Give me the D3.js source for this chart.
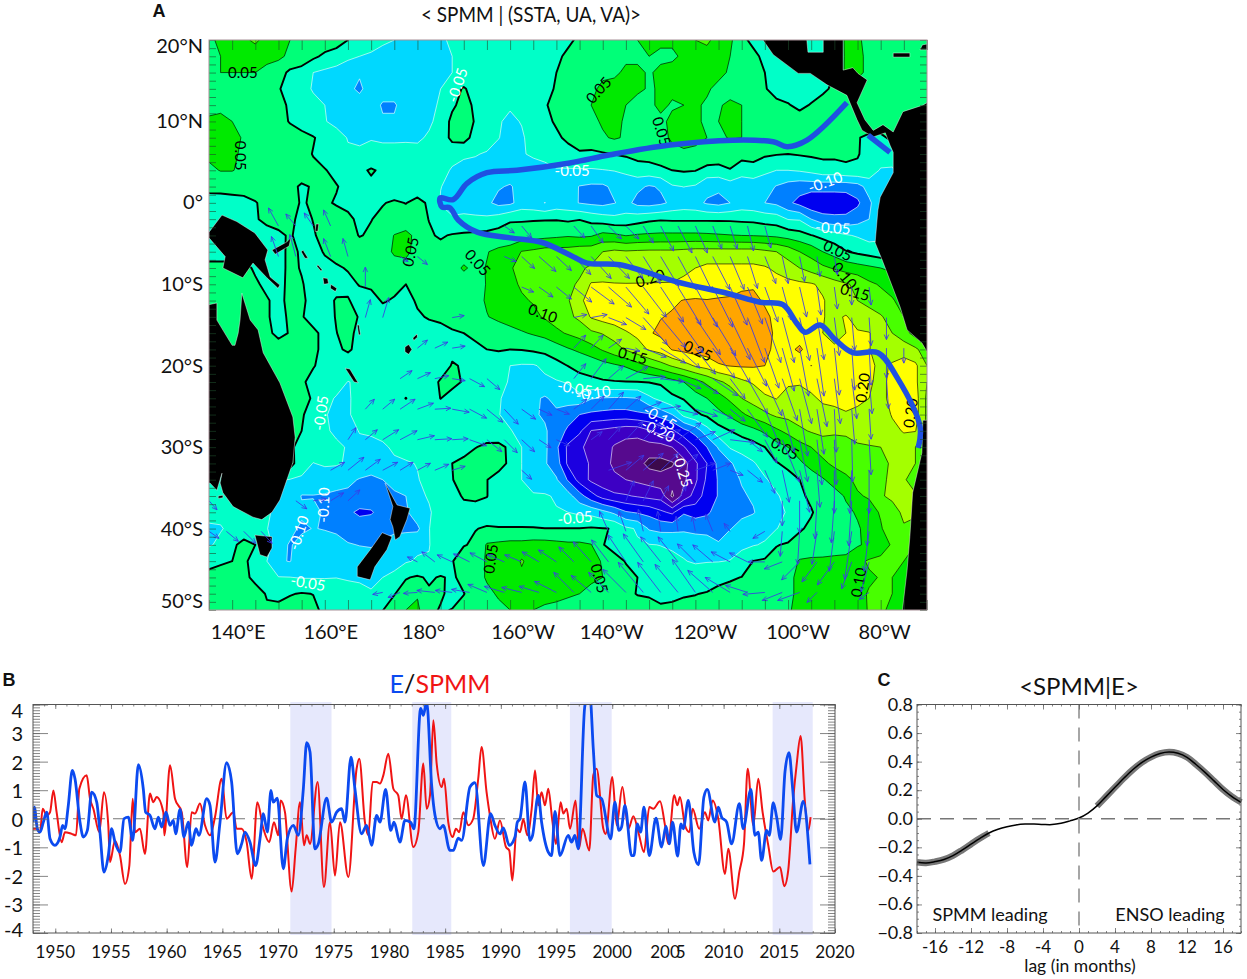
<!DOCTYPE html>
<html><head><meta charset="utf-8">
<script src="https://cdn.jsdelivr.net/npm/d3@7"></script>
<style>
html,body{margin:0;padding:0;background:#fff;width:1247px;height:979px;overflow:hidden}
text{font-family:Lato,"Open Sans","Noto Sans",sans-serif}
</style></head><body><svg id="c" width="1247" height="979"></svg>
<script>
// ---------- Panel A data: SST regression field (hundredths), rows 20N..50S every 2 deg, columns 135E..290E every 2.5 deg
const fieldRows = [
[4,6,7,9,11,8,7,5,4,3, 3,2,0,-1,-2,-4,-5,-6,-7,-7, -6,-4,-3,-3,-3,-3,-3,-3,-3,-2, -2,-1,1,2,3,3,4,5,6,6, 6,7,10,11,8,6,1,-1,-2,-2, -2,-2,-2,-1,0,6,6,3,3,3, 3,3,3],
[3,5,6,7,7,6,6,4,3,1, -1,-2,-4,-5,-6,-7,-7,-8,-8,-8, -7,-5,-4,-3,-3,-3,-3,-3,-3,-2, -1,1,2,3,3,4,4,4,5,4, 4,6,7,8,8,5,3,1,-1,-2, -2,-2,-2,-2,-1,6,6,4,3,3, 3,3,3],
[4,5,5,5,5,4,2,-1,-2,-5, -6,-7,-8,-9.5,-8,-8,-8,-8,-7,-7, -6,-5,-4,-3,-3,-3,-3,-3,-3,-1, 0,1,2,3,4,4,6,6,4.5,6, 7,7,7,6,6,4.5,3.5,2.5,0,-2, -2,-2,-2,-1,0,6,6,4,3,3, 3,3,3],
[3,3,3,3,3,2.5,0.3,-1.5,-3,-5.5, -7,-8,-9,-10.8,-8,-8,-8,-8,-8,-7, -5,-2,0.5,-2,-3,-3,-3,-3,-3,-1.5, 0.5,2,3,4,6,7,7,6,4.5,5.5, 6,6,6,5.5,4,3,3,2.5,0.3,-1.5, -2,-2,-2,-1,1,3,3,3,3,3, 3,3,3],
[3,4,4,4,3,3,1,-0.5,-2,-3.5, -5,-7,-8,-8,-8,-10.5,-10.5,-8,-7,-6, -4.5,-1,2,-1,-3,-3.5,-4.6,-3.5,-3,-0.3, 1,3,4,5,6,7,5,3,4,6, 4.5,5,5.5,4.5,4.5,6,5,2,1.5,1, 0.3,-1,0.3,2,3,3,3,3,3,3, 3,3,3],
[6,6,5,4,3,3,1.5,-0.3,-2,-3.5, -4.8,-6,-7,-7.5,-8,-9.5,-9.5,-7.5,-6.5,-5.5, -4,1.5,3,-0.5,-3,-4.7,-5.7,-4.8,-3,-1, 0.5,3,4,4,5.5,6,4.5,3.5,3.5,4, 6,6,5.5,4.5,5,5.5,5,3,2,2, 2,2,3,3,3,3,3,3,3,3, 3,3,3],
[7,7,6.5,4.5,3.5,3,3,2,1.5,0.3, -1.5,-3.5,-5.2,-5.5,-5.2,-5.7,-5.7,-5.4,-5.5,-4.6, -3.5,1.5,2,-2,-3.5,-4.9,-6,-5.5,-3.5,-2, -0.7,0.8,2,3,4.5,5.5,4.5,3,3,4, 5.5,6,5.5,5,4.5,5.2,5,3,2,2, 2,2,2,2,2,1.5,0.3,-1,-1,1, 3,3,3],
[6,6.5,6,4,3,3,3,2.5,1.5,-0.2, -1.5,-3,-4.5,-4.5,-4,-3.5,-3.5,-4,-4,-3.5, -3.5,-4,-4.5,-4.8,-5.3,-6,-6.5,-5.3,-4.5,-4, -3,-1.5,-0.5,-1,-0.5,0.2,0.8,1.5,2,2.5, 4,4.5,4.5,4.5,3.5,3,2,2,0.8,0.3, 0,0.4,0.8,1,1,1,0.3,-1.5,-2,-3, 3,3,3],
[4,5.2,5.2,4,3,2.5,2.5,2.5,2,1, 0.2,-1,-2,-1,0.5,-0.8,-3,-3,-3,-3, -4,-5.3,-6,-6,-6.5,-7,-7,-7,-6.5,-6, -5.3,-5.5,-5.5,-5.5,-5.2,-4.8,-4,-2,-2,-1, 0,0.5,0.2,-2,-2,-0.3,-3,-2,-4,-5, -5,-4.5,-3.5,-2,-2,-1,-0.8,-2,-5.5,-5.5, -3,0,0],
[1,1.5,1.5,2,2.5,2.5,2,1,-0.5,0.3, 2,0.2,-1,-2,-1,-3,-2.5,-2,-2,-3, -4.9,-6,-7,-7,-7,-9.5,-10.5,-8,-8,-8, -8,-8,-10.2,-10.8,-10.8,-9,-8,-9,-10.5,-9.5, -5.5,-4.9,-5.5,-8.5,-9,-7.5,-8,-8,-8,-10.3, -12,-13,-13,-13,-13,-13,-12,-8,-6,-5, -3,0,0],
[-1.5,-2,-1.5,-1.5,-0.3,1.5,2.5,2,-0.5,0.7, 0.5,-0.3,-1,-1,-1,-0.2,0.5,-0.1,1,-0.5, -5.3,-6,-7,-8,-9,-11.5,-11,-8,-8.5,-10.1, -8,-8.5,-10.2,-11,-11.5,-10.2,-8.5,-11.5,-12,-11, -9,-8,-8.5,-10.6,-11.5,-10,-8,-8.5,-10,-11, -14,-16.5,-19,-19,-19,-18.5,-16,-11,-6,-4, -3,0,0],
[-2,-2,-2,-2,-0.2,0.5,1,0.8,-1,0.1, 1,1.5,0.8,-0.8,-0.1,0.8,1,1.5,1.5,-0.1, -3,-4.7,-4,-4,-4,-2.5,-0.5,-0.5,-0.4,-0.3, -0.3,-0.8,-0.2,-1.5,-2.5,-3.5,-3,-2,-1,-0.5, -0.7,-0.7,-0.7,-0.7,-0.7,-0.7,-1,-1.2,-2,-2.5, -5.2,-5.5,-10,-13,-13.5,-13.5,-12,-10,-5.5,-3, -3,0,0],
[-1.5,-1.5,-1.5,-1.5,-1,-0.8,-0.5,0.3,-1,-0.3, 1,1.5,1.5,-0.2,0.5,2,5.2,6.5,3.5,0.5, -0.5,0.4,0.8,1,1.5,2,2,2.5,3,3.5, 4,4.5,4,4.5,6.5,6,4.8,5.5,5.8,6, 6,6,6,5.8,5.5,5.2,5,4.8,4.5,4, 3,2,0.2,-1.5,-3,-4.5,-5.5,-7,-6,-3, -3,0,0],
[-1.5,-1.5,-1.5,-1.5,-1.5,-1.5,-1.5,1,-0.5,-1.2, 0.3,1.5,1.5,2,2.5,3.5,5.5,6,3.5,2, 1.5,3,3,3.5,4.8,6,7,10.2,11,12, 12,12,13,13,15,16,15.5,15.8,16,16, 16,16.5,17,17,17,17,17,17,16,15, 13,10,8,5,3,0.3,-1,-2,-3,-3, -3,0,0],
[1,1,1,1,-0.5,-1.5,-1.5,1,-0.3,-1.5, -1,-0.5,0.3,1,1.5,3,3.5,3.5,2.5,2.5, 3,3.5,5.5,4,5.2,7,9.7,11,12,13, 13.5,14,14.5,15.5,17,16.5,15.3,16,17,17.5, 18,19,20,21,21,21,21,21,20.5,19, 17,15,13,11,9.5,8,7,6,5,4, 3,3,3],
[1,1,1,1.5,0.5,-0.8,-1,0.8,0.3,-1.5, -2.5,-2,-1,0.2,1,2,1.5,0,1.5,2, 2.5,3,3,3.5,5.2,7,9,10.5,11.5,13, 14,14.5,15.3,20.5,20.5,20.3,20.3,20.3,20.3,20.3, 20.3,21,21.5,22,22,22,23.5,24.5,23,22, 21.5,21,20.5,19,17,15.5,14,11,9.5,8, 3,3,3],
[2,2,2,2,2,0.3,-1,1,0.8,-1.5, -2,0.5,0.3,-1.5,-2,0.5,-0.5,-0.8,0.3,1, 2,2.5,3,3.5,5.5,7,8.5,9.5,10.3,12, 13,14.5,19,22,23,23,23,23,23.5,24, 24.3,25.2,25.5,25.2,25.6,26,27,26,24.5,23, 22,21.5,21,20.4,18,16.5,15,13.5,12,10.5, 8,3,3],
[2,2,2,2,2,0.3,-1,0.5,0.3,-1.5, -2,0.3,1.5,-0.3,-2,-2.5,-2.5,-2,-0.3,0.2, 0.3,1,2,3,4.8,6,7,8,9,10.5, 12,14,16,20.5,22,23,23,23.5,24,24.8, 25.5,26,26.5,26.5,27,27,27,26.5,25.8,24, 23,22,21.5,20.2,19,20.4,18,17,15.5,13, 10,3,3],
[2,2,2,2,2,0.7,-0.8,0.2,2,0.8, -1,-0.1,1.5,-1.5,-2.5,-3,-3,-3,-2.5,-1, -0.5,-0.3,0,0.5,1.5,2.5,3.5,4.5,5.5,6.5, 9,10.5,12,14,15.3,17,19.5,21,24.5,26, 27,28,28,28,28,28,27.5,27.5,27,24, 23,22,21,20,19,20,20.5,20.2,18,15, 12,8,5],
[2,2,2,2,2,2,1.5,1.5,2,0.8, -1,-0.8,0.7,-1.5,-3,-3,-3,-3.5,-3.5,-3.5, -2.5,-1.5,-1,-0.5,0,0.5,0,0.2,0.8,1.5, 2.5,4.5,6,8,10.5,13,15.5,18,20.5,22, 25.3,26.3,27,27.5,28,28,28,28,26.5,23.5, 23.5,26,22,21,20.5,21,21,20.3,17,18, 18,16,12],
[2,2,2,2,2,2,1.5,1.5,1.2,0.2, -1,-2,-3,-3,-3,-3.5,-3.5,-3.5,-3.5,-3.5, -3.5,0.5,-0.5,-3.5,-3.5,-4,-5,-5.5,-5.5,-4, -1.5,0.1,0.8,1.5,3,4.2,5.5,8,10.5,13, 15.5,18,20.5,22,24.5,25.2,25.5,25.5,25,23, 21.5,21,25.1,21.5,21,21,21.5,21,19,20.5, 22,21,15],
[2,2,2,2,2,2,2,1.5,0.5,-1, -3,-3.5,-5.1,-4.5,-3,-2.5,-2.5,-2.5,-2,-3, 0.8,1.5,-0.5,-3,-3.5,-4,-5.3,-6,-6.5,-6, -5.5,-4.6,-1,-0.8,-0.5,-0.3,-0.2,-0.1,0.2,0.8, 3,5,8,11,14,16.5,19,20.5,23,22, 21,20.5,21,20.5,21,20.5,20.5,20.5,19,21, 22,21,15],
[2,2,2,2,2,2,2,1.5,0.6,-0.2, -4,-5.3,-5.5,-3.5,-3,-2,-2,0.1,-2,-2.5, 0.1,-2,-2.5,-3,-3.5,-4.7,-6,-7,-9,-10.6, -8.5,-8,-7,-9.7,-10.3,-10.5,-10.5,-10,-6,-3.5, -1,0.3,3,5,8,11,15,17,19,20.2, 17.5,18,19.5,20.5,20.5,20.8,20.5,20,19,21, 23,22,14],
[2,2,2,2,2,2,2,2,0.5,-2, -4.7,-6,-5.3,-4,-3,-3,-3,-3,-3,-3, -3,-3,-3,-3.5,-4,-4.8,-6.5,-8,-9.5,-10.5, -11,-12.5,-15,-16,-16.5,-17,-17,-16,-15.5,-13, -10,-3.5,-1,1,3.5,6,9,12,14,16, 16.5,17.5,18.5,19,19.5,19.8,19.5,18.5,18,20.3, 23,22,14],
[2,2,2,2,2,2,2,2,0,-2, -4.6,-5.5,-6.5,-4.8,-4,-3,-3,-3,-3,-3, -3,-3,-3,-3.5,-3.5,-4,-4.7,-6.5,-8,-9.5, -12,-16,-19,-25.2,-26,-27,-28,-28,-25.5,-23, -21,-16.5,-13,-7,-2,0,2,3.5,6,9, 11.5,14,15.5,16.5,15.5,15.5,16.5,16.5,15.5,19, 20.3,20.2,14],
[2,2,2,2,2,2,2,1,-2,-3, -4,-4.5,-5.2,-6,-7,-6,-4,-3,-3,-3, -3,-3,-3,-0.2,1.2,1.5,-1,-5,-7,-9, -14,-21,-24.5,-26,-27.5,-30.5,-32,-32.5,-32,-32, -30,-25.5,-20,-15,-9.5,-4.5,-3.5,-2,0,3, 5,8,10,12,13.5,14,14.5,14.8,15,16, 18,15,12],
[2,2,2,2,2,2,2,2,-3.5,-5.1, -4.5,-4.5,-5.5,-6.5,-7.5,-8,-6,-5.5,-4.8,-3.5, -1,0,2,2.5,2.5,2,-1,-5,-7.5,-9.5, -12.5,-21,-24,-25.3,-28,-31,-32,-33,-36.5,-36.5, -35.5,-32,-26,-20,-13.5,-10.8,-7,-5.5,-3,-0.3, 1,4,7,9,11,12,13,13.5,14,15.5, 15.5,15,10],
[-3,-3,-3,-3,-3,-4,-4.5,-5.2,-5.5,-6.5, -7,-8,-9,-10.3,-11,-10,-8,-6,-5.3,-3.5, -2,-0.1,1,1,0.1,-2,-4,-5,-7,-8, -9.5,-15.5,-22,-26,-28,-29,-30,-31,-32,-33.5, -33,-31,-26,-19,-14.5,-11.5,-9.7,-7,-5.5,-3.5, -1.5,0,2,4.5,7,9,11,13,14.5,15.5, 15.5,13,9],
[-3,-3,-3,-3,-3,-4,-5,-6,-10.3,-10.2, -10.5,-11,-11,-11.5,-12,-12,-11,-10,-6,-4.6, -3,-1,0.3,0.5,0.1,-2,-3,-4,-4.5,-4.5, -5.5,-8,-13,-18,-22,-24,-24.5,-25.5,-26.5,-27, -36,-28,-23,-17.5,-14.7,-12,-10.5,-9.5,-6,-5.5, -3.5,-0.5,0.5,2,3,5.5,9.5,10.5,14.5,16, 16.5,15.5,8],
[-4,-4,-4,-4,-3,-4.5,-6,-7,-9,-9, -10.5,-12,-14,-16,-15.5,-13,-11.5,-10.8,-7,-5.5, -3,-1.5,-1,-1,-1.5,-4.7,-4.7,-4.7,-4.7,-4.7, -4.7,-5,-6,-6.5,-8.5,-11,-14.5,-15.5,-16.5,-19, -21,-15.5,-17,-16,-12.5,-11,-11,-10.3,-8,-6.5, -4.5,-2,-0.2,1,2.5,4,5.5,8,10.5,13, 16,15.5,7],
[-5.5,-5.3,-4,-3,-2.5,-4.9,-6.5,-8.5,-11,-9.8, -10.3,-11,-13,-12,-12,-11,-11,-11,-11,-5.1, -3,-2,-0.5,-0.1,0.3,0.5,0.5,0.5,0.4,0.1, 0.1,0.1,0.1,0.5,0.2,-0.2,-4,-5.5,-10.5,-11.5, -11.5,-11,-11.5,-11,-10.8,-10.2,-8.5,-7.5,-6.5,-5.2, -3,-0.3,0.5,1,2,3.5,4.5,6.5,9.5,13, 14.5,14,5],
[-5.5,-4,-1,1.5,0,-3,-8,-10.5,-8,-7, -7.5,-8,-9.5,-10.2,-10.5,-9.5,-8,-7,-6,-5.2, -2.5,-0.3,-0.2,0.5,5.5,6,6.5,6.5,7,7, 6.5,6,6,5.2,0.2,-1.5,-3,-4.5,-4.8,-5.1, -5.3,-6,-7,-8.5,-9.8,-7.5,-6,-5.3,-4.5,-0.2, 0.5,1,1.5,2,3,3.5,4.5,6,8,10.5, 11,10,4],
[-0.5,-0.5,0,0.5,-1,-5,-9.5,-10.2,-7,-6, -6,-6,-6.5,-7,-7.5,-7,-6.5,-5.5,-4.5,-4.7, -3,-0.2,2,3,5.5,7,7,10.5,8,8, 8,8,7.5,7,4.5,1.5,-0.2,-1.5,-2.5,-3.5, -4.5,-4.8,-5.5,-5.3,-5.2,-4.8,-3,0.1,0.8,1.5, 2,5.5,6,6,6,6,9,10.5,11,10.8, 10,7,3],
[0.5,1.5,2,1,-1,-3,-4.8,-4.9,-5.3,-5.3, -5.3,-5.1,-5.5,-5.5,-5.5,-5,-4,-0.3,0.5,-0.5, 0.3,-0.5,1,3,5.5,7,8,9,7.5,7.5, 8,8,7.5,6,5,3,1,0,-1,-2, -2.5,-3,-2.5,-1.5,-1,-0.5,0.1,1,2.5,3.5, 4.5,5.5,6,6.5,7,7.5,8,9.5,10.2,10, 9.5,6,3],
[2,3,3,2.5,1.5,-0.3,-1,-0.3,0.3,-0.1, -1,-2,-3,-4,-4.8,-2,-0.2,2,4.5,0.5, 0.5,-1,-0.1,1.5,4,5.5,6.5,7,6.5,6, 6,5.5,5,3.5,2,1,0.5,-0.1,-0.3,-0.8, -1,-0.3,-0.1,0.2,1,1.5,2.5,3,3.5,4, 4.5,5.5,6,7,7.5,8,9,10.3,11,10, 8,5,3],
[3,4,4,3,2,0.5,1,2,2,1, -1,-2,-3,-3,-2,-0.1,2,5,6,1, -0.3,0.1,1,2,3,4,5,5,5,4.5, 4,3.5,3,2,1.5,1,1,1,1,0.5, 1,1,1,1.5,2,2.5,3,3,3.5,4, 4.8,5.5,6.5,7,7.5,8,9,10.2,10.8,9, 7,4,3]
];
const fieldLon0 = 135, fieldDLon = 2.5, fieldLat0 = 20, fieldDLat = 2;
const fieldLevels = [-35,-30,-25,-20,-15,-10,-5,0,5,10,15,20,25];
const fieldColors = ["#3c0a4c","#560a8e","#3d00c4","#1c00e0","#0000f0","#0080ff","#00d8ff","#00ffc8","#00ff78","#00ea00","#48ff00","#a4ff00","#ffff00","#ffa500"];

// land outlines [lon, lat]
const australia = [[135,-12.5],[136.7,-12.3],[136.7,-14.4],[140,-17.5],[140.6,-17.5],[141.3,-16],[141.7,-14.4],[142.1,-11.1],[143.9,-14.4],[145.6,-15.6],[146.7,-18.4],[150.3,-22.1],[153.1,-26.3],[153.6,-28.8],[153.1,-31.9],[150.3,-36.5],[148.6,-38],[146.4,-38.9],[144.5,-38.6],[140.2,-37.3],[138,-35.6],[137.4,-34.4],[137.8,-33.2],[136.7,-35.3],[135.2,-34.4],[134,-34.4],[134,-12.5]];
const tasmania = [[144.9,-40.8],[148.6,-41],[148.6,-42.4],[147.5,-43.5],[146,-43.2]];
const newGuinea = [[134,-3.6],[135,-3.6],[137.8,-1.5],[141,-2.3],[144.9,-3.7],[147.7,-5.8],[147.1,-7],[148.2,-9.1],[150.3,-10.1],[149.9,-10.5],[147.5,-9.2],[144.5,-7.4],[142.3,-9.2],[138,-8],[138.5,-6.6],[135,-4.3],[134,-4.3]];
const newBritain = [[148.6,-5.8],[151.8,-4.8],[152.7,-4.2],[152.3,-5.3],[149.3,-6.3]];
const bougainville = [[155.3,-5.8],[156.4,-6.8],[155.7,-6.8],[154.9,-6]];
const solomon1 = [[158.5,-7.6],[159.4,-8.2],[159.2,-8.4],[158.3,-7.8]];
const solomon2 = [[159.6,-9.2],[160.6,-9.3],[160.8,-9.9],[159.8,-10]];
const solomon3 = [[161.3,-10],[162.6,-10.5],[162.3,-10.9],[161.2,-10.5]];
const nzNorth = [[173,-34.4],[175.6,-37.1],[178.4,-37.5],[177.7,-38.9],[176.2,-41],[175.2,-41.4],[174.7,-39.8],[174.1,-38.9],[174.7,-37.3]];
const nzSouth = [[172.4,-40.5],[174.5,-41],[173.4,-42.6],[170.8,-44.7],[169.8,-46.3],[167,-45.9],[167,-44.7],[169.8,-42.6]];
const newCaledonia = [[164.4,-20.3],[165.4,-20.4],[167.2,-22.1],[166.3,-22]];
const fiji = [[177.3,-17.7],[178.1,-17.4],[178.8,-18],[178.1,-18.6],[177.3,-18.3]];
const fiji2 = [[179,-16.6],[179.9,-16.1],[180,-16.5],[179.2,-16.9]];
const vanuatu = [[167,-15],[167.4,-15],[167.7,-16.2],[167.3,-16.2]];
const nauru = [[158.1,-2.6],[158.7,-2.6],[158.5,-3.5],[157.9,-3.5]];
const kangaroo = [[137,-36],[138,-35.9],[138,-36.2],[137,-36.3]];
const centralAm = [[254.6,21],[254.6,20],[256.8,18.2],[262.2,15.9],[264.8,15.9],[268.4,14.5],[272.7,13.2],[274.9,10.2],[276,8.9],[278.4,8.1],[281,8.6],[282,7.1],[282.7,6.2],[282.7,3.7],[279.9,0.7],[279.4,-0.9],[278.8,-4.9],[280.3,-7],[284.2,-12.8],[285.7,-15.6],[288.9,-17.2],[290,-18.3],[291,-18.3],[291,12.3],[290,12.3],[289.1,12],[284.8,11.2],[282.7,8.7],[280.5,9.6],[278.4,8.9],[276.6,10.2],[274.9,12.3],[277.1,15.1],[275.1,15.9],[274,16.6],[271.9,16.3],[271.9,21],[267.6,21],[267.6,18.5],[264.3,18.5],[263.9,21]];
const chile = [[291,-26.7],[289.1,-26.7],[288.9,-30.7],[286.9,-35.6],[286.3,-41],[285.7,-45.1],[284.6,-50.5],[291,-50.5]];
const cuba = [[282.7,18.4],[286.3,18.4],[286.3,17.9],[282.7,17.9]];
const hispaniola = [[289,19.4],[290,19.5],[290,18.8],[288.5,18.8]];
const landShapes = [australia,tasmania,newGuinea,newBritain,bougainville,solomon1,solomon2,solomon3,nzNorth,nzSouth,newCaledonia,fiji,fiji2,vanuatu,nauru,kangaroo,centralAm,chile,cuba,hispaniola];

// thick blue path
const blueTrackA = [[272.7,12.3],[264.1,7.7],[259.8,6.9],[256.8,7.5],[248.1,7.7],[234.5,7.1],[221.6,5.9],[212.9,4.9],[201.5,4],[195,3.7],[190.7,2.4],[187.7,0.4],[184.9,0.6],[185.3,-0.5],[187,-0.6],[188.8,-2.1],[192.9,-3.6],[200,-4.3],[207.1,-4.9],[212.9,-6.4],[216.6,-7.4],[223.7,-7.6],[236,-9.7],[246.8,-11.1],[254,-12.2],[258.9,-12.5],[261.9,-14.8],[263.7,-15.9],[266.9,-15],[270.2,-16.8],[274,-18.4],[279.4,-18.4],[283.5,-21.4],[288.5,-27.5],[288.1,-30.1]];
const blueTrackB = [[277.3,8.3],[282,6.2]];

// wind vectors: windLats[row]; each vector [column index, eastward, southward]; column lon = 135 + 3.75*index
const windLats = [-2.84,-6.59,-10.34,-14.09,-17.84,-21.59,-25.34,-29.09,-32.84,-36.59,-40.34,-44.09,-47.84];
const windVectors = [
[[4,-10,-18],[5,-10,-12],[6,-9,-13],[7,-7,-16],[17,10,7],[18,10,12],[21,11,12],[22,12,17],[23,13,13],[24,13,13],[25,10,17],[26,13,25],[27,14,27],[28,12,27],[29,9,23],[30,7,23],[31,6,25],[32,6,22]],
[[4,-7,-20],[5,-6,-22],[7,-7,-18],[8,-5,-18],[11,8,5],[12,10,8],[17,12,5],[18,13,12],[19,17,15],[20,15,14],[21,17,18],[22,20,22],[23,21,22],[24,17,22],[25,17,27],[26,18,30],[27,18,33],[28,17,35],[29,17,33],[30,14,33],[31,10,32],[32,11,27],[33,6,27],[34,5,25],[35,3,20],[36,3,18]],
[[9,0,-20],[18,12,5],[19,14,10],[20,15,12],[21,18,15],[22,23,17],[23,23,20],[24,23,27],[25,23,30],[26,23,35],[27,23,38],[28,22,40],[29,20,40],[30,17,38],[31,15,37],[32,13,35],[33,9,33],[34,7,30],[35,4,28],[36,3,22],[37,0,18],[38,2,18]],
[[9,5,-18],[10,6,-20],[14,12,-2],[21,13,-3],[22,16,-3],[23,18,7],[24,20,12],[25,24,27],[26,25,30],[27,25,35],[28,25,37],[29,23,38],[30,20,42],[31,17,45],[32,16,45],[33,12,45],[34,10,43],[35,7,42],[36,5,38],[37,3,33],[38,2,28],[39,0,22]],
[[12,10,-8],[13,13,-6],[14,13,-2],[21,12,-13],[22,12,-13],[23,13,-9],[24,14,3],[25,23,9],[26,25,15],[27,22,20],[28,20,26],[29,22,30],[30,20,35],[31,19,38],[32,14,40],[33,12,43],[34,9,48],[35,7,48],[36,5,47],[37,3,42],[38,2,37],[39,0,30],[40,0,15]],
[[11,12,-8],[12,13,-6],[13,14,-3],[14,13,2],[15,15,8],[16,13,11],[21,12,-15],[22,15,-20],[23,15,-13],[24,22,-12],[25,22,-2],[26,23,3],[27,23,10],[28,23,15],[29,25,17],[30,15,20],[31,20,35],[32,17,37],[33,15,42],[34,12,45],[35,10,48],[36,6,45],[37,5,40],[38,3,35],[39,2,30]],
[[9,9,-10],[10,12,-10],[11,15,-10],[12,16,-6],[13,16,-1],[14,17,3],[15,17,9],[16,16,13],[17,14,15],[18,14,10],[19,13,6],[20,13,5],[21,13,-10],[22,13,-13],[23,15,-17],[24,15,-13],[25,18,-7],[26,20,-3],[27,20,5],[28,22,7],[29,20,9],[30,15,12],[31,20,28],[32,15,37],[33,12,43],[34,8,47],[35,7,45],[36,2,43],[37,3,35],[38,2,30]],
[[8,8,-12],[9,12,-10],[10,16,-10],[11,17,-9],[12,17,-4],[13,17,-1],[14,16,-1],[15,17,6],[16,15,12],[17,13,13],[18,13,12],[19,12,8],[20,13,6],[22,11,-8],[23,12,-13],[24,17,-18],[25,17,-17],[26,20,-10],[27,23,-17],[28,20,-8],[29,22,-10],[30,25,3],[31,15,12],[32,12,23],[33,17,42],[34,8,42],[35,5,45],[36,2,45],[37,1,42],[38,2,35]],
[[7,14,-8],[8,16,-13],[9,15,-11],[10,15,-8],[11,13,-8],[12,13,-7],[13,14,-6],[14,13,-4],[18,10,9],[23,23,-8],[24,18,-15],[25,20,-17],[26,18,-17],[27,20,-16],[28,20,-7],[29,18,-7],[30,13,5],[31,15,12],[32,10,23],[33,7,32],[34,10,42],[35,3,37],[36,0,43],[37,-2,43],[38,0,43]],
[[0,8,9],[5,11,8],[6,13,-2],[7,13,-8],[8,12,-11],[24,8,-20],[25,10,-20],[26,8,-15],[27,8,-15],[33,0,25],[34,0,32],[35,-2,38],[36,-3,42],[37,-3,45],[38,-2,45]],
[[0,10,7],[1,12,10],[2,12,12],[3,11,12],[23,-9,-20],[24,-7,-20],[25,-5,-22],[26,-3,-20],[27,-2,-15],[28,-3,-15],[29,-7,-17],[30,-6,-8],[32,-12,7],[33,-2,25],[34,-2,33],[35,-5,33],[36,-5,40],[37,-7,48],[38,-5,40]],
[[12,-10,-5],[13,-13,-10],[14,-15,-7],[15,-16,-8],[16,-17,-9],[17,-17,-7],[18,-17,-7],[19,-17,-10],[20,-18,-12],[21,-15,-15],[22,-18,-20],[23,-17,-22],[24,-18,-27],[25,-20,-28],[26,-20,-25],[27,-20,-25],[28,-18,-18],[29,-20,-17],[30,-19,-10],[31,-18,-9],[32,-17,0],[33,-18,7],[34,-18,18],[35,-15,20],[36,-17,23],[37,-10,27],[38,-8,30]],
[[10,-10,2],[11,-12,5],[12,-14,1],[13,-18,-2],[14,-17,-2],[15,-18,-3],[16,-19,-8],[17,-20,-6],[18,-20,-5],[19,-20,-6],[20,-22,-11],[21,-20,-20],[22,-20,-17],[23,-20,-20],[24,-23,-23],[25,-25,-30],[26,-23,-30],[27,-23,-28],[28,-23,-33],[29,-25,-22],[30,-25,-15],[31,-22,-7],[32,-22,2],[33,-20,8],[34,-22,8],[35,-10,10],[38,-10,7]]
];

// contour labels: [text, lon, lat, angle, colour]
const contourLabels = [
["0.05",142.3,16.1,0,"#000"],["0.05",141.9,5.8,90,"#000"],["-0.05",188.5,14.5,-72,"#fff"],["0.05",219,13.9,-48,"#000"],["0.05",232.8,8.8,72,"#000"],["-0.05",213.4,4,0,"#fff"],["-0.10",268,2.6,-20,"#fff"],["-0.05",269.7,-3,3,"#fff"],["0.05",178.4,-6,-78,"#000"],["0.05",193.1,-7.3,48,"#000"],["0.10",207.1,-13.5,20,"#000"],["0.20",230.2,-9.2,-18,"#000"],["0.05",270.8,-5.8,25,"#000"],["0.10",272.3,-8.9,50,"#000"],["0.15",274.5,-10.9,15,"#000"],["0.25",240.6,-18.1,25,"#000"],["0.15",226.5,-18.7,15,"#000"],["0.20",276,-22.7,-82,"#000"],["0.20",286.3,-25.8,-82,"#000"],["0.05",259.4,-30.1,30,"#000"],["0.10",275.1,-46.6,-80,"#000"],["0.05",219.4,-46.1,75,"#000"],["0.05",195.7,-43.7,-82,"#000"],["-0.05",159,-25.8,-82,"#fff"],["-0.10",159.6,-37.1,-88,"#fff"],["-0.10",154.2,-40.5,-72,"#fff"],["-0.05",156.4,-46.6,10,"#fff"],["-0.05",214,-22.7,10,"#fff"],["-0.10",217.9,-23.3,-8,"#fff"],["-0.15",232.4,-26.3,30,"#fff"],["-0.20",232,-27.9,25,"#fff"],["-0.25",237.3,-32.8,72,"#fff"],["-0.05",214,-38.6,-5,"#fff"]
];
const lonTicks = [140,160,180,200,220,240,260,280];
const lonTickLabels = ["140°E","160°E","180°","160°W","140°W","120°W","100°W","80°W"];
const lonLabelNudge = [6,6,6,13,9,10,10,4];
const latTicks = [20,10,0,-10,-20,-30,-40,-50];
const latTickLabels = ["20°N","10°N","0°","10°S","20°S","30°S","40°S","50°S"];
const latLabelNudge = [6,0,-1,0,0,0,0,-9];

// ---------- Panel B data
const eYears = [1948,1948.12,1948.39,1948.63,1948.93,1949.23,1949.53,1949.97,1950.42,1950.66,1950.87,1951.17,1951.53,1951.77,1952.22,1952.52,1952.88,1953.27,1953.72,1954.01,1954.37,1954.76,1955.06,1955.36,1955.81,1956.17,1956.56,1956.95,1957.46,1957.9,1958.11,1958.5,1958.95,1959.25,1959.55,1959.94,1960.3,1960.6,1960.81,1961.2,1961.55,1961.94,1962.24,1962.63,1962.9,1963.59,1963.89,1964.34,1964.79,1965.38,1965.83,1966.34,1966.73,1967.03,1967.48,1967.99,1968.38,1968.68,1969.04,1969.36,1969.57,1969.93,1970.47,1970.83,1971.37,1971.82,1972.27,1972.57,1972.87,1973.31,1973.61,1974.36,1974.81,1975.26,1975.71,1976.01,1976.55,1976.9,1977.5,1977.95,1978.4,1978.85,1979.15,1979.66,1980.11,1980.41,1980.94,1981.39,1981.9,1982.2,1982.8,1983.04,1983.34,1983.79,1984.09,1984.53,1984.83,1985.43,1985.73,1986.18,1986.48,1987.23,1987.68,1988.43,1989.08,1989.47,1989.92,1990.22,1990.76,1991.27,1991.48,1991.72,1992.17,1992.61,1992.85,1993.36,1993.66,1994.26,1994.56,1994.86,1995.31,1996.05,1996.35,1996.65,1996.95,1997.55,1998,1998.3,1998.6,1999.05,1999.86,2000.24,2000.6,2000.84,2001.14,2001.74,2001.95,2002.25,2002.55,2002.85,2003.33,2003.93,2004.43,2004.83,2005.12,2005.42,2005.87,2006.17,2006.38,2006.83,2007.33,2007.75,2008.23,2008.53,2009.22,2009.52,2009.82,2010.27,2010.72,2011.41,2011.76,2012.45,2012.81,2013.11,2013.41,2013.86,2014.1,2014.46,2014.76,2015.12,2015.51,2015.87,2016.2,2016.55,2017.15,2017.75];
const eValues = [-0.12,0.41,-0.35,-0.47,-0.12,0.23,-0.7,-0.93,-0.64,-0.23,-0.35,0.47,1.69,1.4,-0.12,-0.64,-0.41,0.93,0.58,-0.47,-1.87,-1.29,-0.35,-0.82,-1.17,0,0.06,-0.76,1.89,1.05,0.23,0.12,-0.35,0.06,-0.29,0.23,-0.23,-0.06,-0.53,0.33,-0.64,-0.12,-0.93,-0.35,-0.58,0.7,0.47,-1.52,-0.12,1.96,1.29,-1.23,-0.88,-0.47,-0.82,-1.64,-0.7,0.18,-0.47,0.99,0.58,0.72,-1.75,-0.7,-0.23,-0.58,1.05,2.66,2.34,-1.05,-0.88,0.72,-0.12,0.23,0.35,-0.12,2.16,1.05,-0.53,-0.23,-0.93,0.12,-0.12,1.03,-0.41,-0.12,-0.82,-0.06,-0.12,-0.35,3.86,3.62,4.1,1.17,0.12,-0.35,-0.23,-1.11,-1.11,-0.68,-0.76,1.11,1.26,-1.64,0.18,-0.23,-0.53,-0.32,-0.93,-0.64,-0.12,0,1.29,-0.76,-0.58,0.82,-0.12,-1.17,-1.29,0.26,-1.29,-0.58,-0.82,-0.58,-1.05,3.97,4.3,2.45,0.82,0.7,-0.7,0.58,-0.41,-0.29,0.47,-1.29,-1.29,-0.18,-0.47,0.41,-1.29,0.02,-0.99,-0.26,-0.88,-0.12,-1.31,-0.18,-0.35,0.64,-1.17,-1.61,0.76,1.03,-0.12,0.41,0.06,-0.12,-0.88,0.53,-0.35,1.03,-0.58,-0.47,-1.46,-0.41,-0.58,0.56,0.06,-0.72,1.64,2.31,1.05,-0.47,0.61,-1.6];
const spmmYears = [1948,1948.33,1948.63,1948.87,1949.23,1949.53,1949.83,1950.12,1950.57,1950.87,1951.47,1951.86,1952.16,1952.82,1953.12,1953.42,1953.95,1954.37,1954.76,1954.91,1955.36,1955.81,1956.26,1956.65,1956.95,1957.16,1957.6,1958.05,1958.5,1958.8,1959.1,1959.7,1959.79,1960.3,1960.75,1961.35,1961.85,1962.24,1962.54,1962.99,1963.44,1963.89,1964.34,1964.94,1965.38,1965.98,1966.28,1966.73,1967.18,1967.63,1968.14,1968.68,1969.21,1969.63,1970.02,1970.23,1970.62,1971.22,1971.58,1971.97,1972.33,1972.57,1972.87,1973.55,1974.12,1974.66,1975.11,1975.56,1976.31,1977.05,1977.29,1977.8,1978.1,1978.49,1978.85,1979.15,1979.45,1979.9,1980.35,1980.79,1981.09,1981.48,1982.14,1982.59,1983.04,1983.34,1983.64,1983.94,1984.24,1984.69,1984.9,1985.28,1985.67,1985.97,1986.27,1986.63,1987.08,1987.52,1987.97,1988.27,1988.72,1989.02,1989.47,1989.92,1990.46,1990.76,1991.03,1991.42,1991.72,1992.02,1992.38,1992.77,1993.07,1993.36,1993.66,1993.96,1994.26,1994.62,1994.95,1995.37,1995.61,1995.91,1996.21,1996.71,1997.01,1997.34,1997.94,1998.3,1998.6,1999.2,1999.41,2000.01,2000.4,2000.91,2001.45,2001.9,2002.35,2002.85,2003.33,2003.69,2004.29,2004.74,2005.03,2005.57,2005.84,2006.08,2006.53,2006.92,2007.22,2007.81,2008.32,2008.62,2009.01,2009.52,2010.12,2010.42,2011.02,2011.41,2011.83,2012.16,2012.67,2013.11,2013.5,2014.01,2014.46,2015.06,2015.45,2015.8,2016.25,2016.55,2016.91,2017.3,2017.6,2017.81];
const spmmValues = [-0.35,-0.35,-0.47,0.35,0.12,0.23,0.99,0.23,-0.82,-0.47,-0.53,-0.58,1.05,1.52,0.7,0.35,-0.47,0.93,-0.23,-1.52,-0.76,-1.29,-2.28,-1.64,0.7,-0.47,-0.35,-1.23,0.88,0.58,0.76,0.23,-0.58,1.87,0.7,0.23,-1.69,0.23,0.18,0.53,-0.23,-0.58,0.06,1.4,0,0.23,-0.35,-0.35,-0.82,-2.1,0.58,-0.35,-0.82,-0.12,-0.58,0.64,0.23,-2.55,-1.05,0.58,-0.93,-0.58,-0.88,1.29,-2.39,-0.12,-1.99,-0.12,-2.04,1.75,2.1,-0.12,-0.58,1.29,1.29,1.23,1.52,2.28,1.05,0.82,0,0.82,-0.99,-0.47,1.93,0.35,0.82,3.45,1.93,1.11,1.4,-0.12,-0.64,-0.35,-0.47,0.23,-0.23,0,1.4,2.51,0.93,0.12,-0.7,-0.06,-0.99,-1.11,-2.16,-0.35,-0.47,-0.02,-0.58,0.35,1.69,0.47,0.93,0.47,1.05,-0.06,-0.88,0.58,0.18,0.35,-0.35,0.64,-1.05,-0.35,-1.11,1.52,1.75,-0.35,-0.53,1.46,-0.23,1.11,-0.35,0.09,-0.47,-1.17,0.41,0.35,0.61,-0.23,-0.88,0.82,0.47,0.76,-0.23,-0.47,0.35,-0.35,0.23,-0.06,0.64,0,-1.93,-1.05,-2.8,-1.87,-0.88,1.75,-0.23,1.4,0.23,-0.93,-1.85,-1.69,-2.36,-1.81,0.7,1.87,2.9,0.58,-0.41,0.06];
const shadeStart = [1971.1,1982.05,1996.2,2014.4];
const shadeEnd = [1974.8,1985.55,1999.95,2018];
const yearTicks = [1950,1955,1960,1965,1970,1975,1980,1985,1990,1995,2000,2005,2010,2015,2020];
const bValTicks = [4,3,2,1,0,-1,-2,-3,-4];

// ---------- Panel C data
const lags = [-18,-17,-16,-15,-14,-13,-12,-11,-10,-9,-8,-7,-6,-5,-4,-3,-2,-1,0,1,2,3,4,5,6,7,8,9,10,11,12,13,14,15,16,17,18];
const corrValues = [-0.305,-0.31,-0.3,-0.285,-0.258,-0.22,-0.178,-0.137,-0.1,-0.074,-0.056,-0.043,-0.037,-0.037,-0.04,-0.041,-0.032,-0.015,0.005,0.04,0.09,0.155,0.22,0.285,0.345,0.395,0.432,0.457,0.467,0.458,0.43,0.38,0.325,0.265,0.205,0.155,0.115];
const lagTicks = [-16,-12,-8,-4,0,4,8,12,16];
const corrTicks = [0.8,0.6,0.4,0.2,0,-0.2,-0.4,-0.6,-0.8];

// ---------- build
const svg = d3.select("#c");
const defs = svg.append("defs");

// === Panel A ===
const xA = d3.scaleLinear().domain([135,290]).range([209,927]);
const yA = d3.scaleLinear().domain([20,-50]).range([40,610]);
defs.append("clipPath").attr("id","clipA").append("rect").attr("x",209).attr("y",40).attr("width",718).attr("height",570);
const A = svg.append("g").attr("clip-path","url(#clipA)");

const nCols = fieldRows[0].length, nRows = fieldRows.length;
const flat = fieldRows.flat();
const gridPath = d3.geoPath(d3.geoTransform({point(gx,gy){
  this.stream.point(xA(fieldLon0 + (gx-0.5)*fieldDLon), yA(fieldLat0 - (gy-0.5)*fieldDLat));
}}));
A.append("rect").attr("x",209).attr("y",40).attr("width",718).attr("height",570).attr("fill",fieldColors[0]);
const contourGen = d3.contours().size([nCols,nRows]).thresholds(fieldLevels);
const bands = contourGen(flat);
A.selectAll("path.band").data(bands).join("path").attr("class","band")
  .attr("d",gridPath).attr("fill",(d,i)=>fieldColors[i+1]).attr("stroke",(d,i)=>fieldColors[i+1]).attr("stroke-width",0.3);
A.selectAll("path.iso").data(bands).join("path").attr("class","iso")
  .attr("d",gridPath).attr("fill","none")
  .attr("stroke",d=>d.value<0?"#fff":"#000")
  .attr("stroke-opacity",d=>d.value<0?0.75:(d.value===0?1:0.8))
  .attr("stroke-width",d=>d.value===0?1.9:0.8)
  .attr("stroke-linejoin","round");

// land
const lineA = d3.line().x(d=>xA(d[0])).y(d=>yA(d[1]));
A.selectAll("path.land").data(landShapes).join("path").attr("class","land")
  .attr("d",d=>lineA(d)+"Z").attr("fill","#000").attr("stroke","#fff").attr("stroke-width",0.6).attr("stroke-opacity",0.7);

// labels below arrows
A.selectAll("text.cl").data(contourLabels).join("text").attr("class","cl")
  .attr("transform",d=>`translate(${xA(d[1])},${yA(d[2])}) rotate(${d[3]})`)
  .attr("text-anchor","middle").attr("dominant-baseline","central")
  .attr("font-size",15).attr("fill",d=>d[4]).text(d=>d[0]);

// wind arrows
const windPts = windVectors.flatMap((row,r)=>row.map(v=>({lon:135+3.75*v[0],lat:windLats[r],u:v[1],s:v[2]})));
const windK = d3.scaleLinear().domain([0,1]).range([0,1]);
A.selectAll("path.arrow").data(windPts).join("path").attr("class","arrow")
  .attr("d",d=>{
    const x0=xA(d.lon), y0=yA(d.lat), dx=windK(d.u), dy=windK(d.s);
    const x1=x0+dx, y1=y0+dy, a=Math.atan2(dy,dx), h=5.5, w=0.42;
    return `M${x0},${y0}L${x1},${y1}M${x1-h*Math.cos(a-w)},${y1-h*Math.sin(a-w)}L${x1},${y1}L${x1-h*Math.cos(a+w)},${y1-h*Math.sin(a+w)}`;
  }).attr("fill","none").attr("stroke","#3a3ae6").attr("stroke-width",0.95).attr("stroke-opacity",0.9);

// blue track
const lineTrack = d3.line().x(d=>xA(d[0])).y(d=>yA(d[1])).curve(d3.curveCatmullRom.alpha(0.5));
A.selectAll("path.track").data([blueTrackA,blueTrackB]).join("path").attr("class","track")
  .attr("d",lineTrack).attr("fill","none").attr("stroke","#1f50e2").attr("stroke-width",5.5).attr("stroke-linejoin","round").attr("stroke-linecap","butt");

// frame + ticks A
const topAxisA = d3.axisTop(xA).tickValues(d3.range(135,291,5)).tickSize(-10).tickFormat("");
const botAxisA = d3.axisBottom(xA).tickValues(d3.range(135,291,5)).tickSize(-10).tickFormat("");
const lAxisA = d3.axisLeft(yA).tickValues(d3.range(-50,21,1)).tickSize(-7).tickFormat("");
const rAxisA = d3.axisRight(yA).tickValues(d3.range(-50,21,1)).tickSize(-7).tickFormat("");
function styled(g){g.select(".domain").remove();g.selectAll("line").attr("stroke","#1c4a2a").attr("stroke-width",0.7).attr("stroke-opacity",0.85);}
svg.append("g").attr("transform","translate(0,40)").call(topAxisA).call(styled);
svg.append("g").attr("transform","translate(0,610)").call(botAxisA).call(styled);
svg.append("g").attr("transform","translate(209,0)").call(lAxisA).call(styled);
svg.append("g").attr("transform","translate(927,0)").call(rAxisA).call(styled);
svg.append("rect").attr("x",209).attr("y",40).attr("width",718).attr("height",570).attr("fill","none").attr("stroke","#a89098").attr("stroke-width",1);

svg.selectAll("text.lonl").data(lonTicks).join("text").attr("class","lonl")
  .attr("x",(d,i)=>xA(d)+lonLabelNudge[i]).attr("y",639).attr("text-anchor","middle").attr("font-size",20).attr("fill","#111").text((d,i)=>lonTickLabels[i]);
svg.selectAll("text.latl").data(latTicks).join("text").attr("class","latl")
  .attr("x",203).attr("y",(d,i)=>yA(d)+latLabelNudge[i]+7).attr("text-anchor","end").attr("font-size",20).attr("fill","#111").text((d,i)=>latTickLabels[i]);
svg.append("text").attr("x",531).attr("y",22).attr("text-anchor","middle").attr("font-size",22).attr("textLength",220).attr("lengthAdjust","spacingAndGlyphs").attr("fill","#111").text("< SPMM | (SSTA, UA, VA)>");
svg.append("text").attr("x",159).attr("y",17).attr("text-anchor","middle").attr("font-size",18).attr("font-weight",700).style("font-family","'Liberation Sans',sans-serif").attr("fill","#111").text("A");

// === Panel B ===
const xB = d3.scaleLinear().domain([1948,2020]).range([33,835]);
const yB = d3.scaleLinear().domain([4,-4]).range([704.5,933]);
defs.append("clipPath").attr("id","clipB").append("rect").attr("x",33).attr("y",704.5).attr("width",802).attr("height",228.5);
svg.selectAll("rect.shade").data(shadeStart).join("rect").attr("class","shade")
  .attr("x",d=>xB(d)).attr("width",(d,i)=>xB(shadeEnd[i])-xB(d)).attr("y",702).attr("height",233).attr("fill","#e6e8fc");
svg.append("line").attr("x1",xB(1948)).attr("x2",xB(2020)).attr("y1",yB(0)).attr("y2",yB(0)).attr("stroke","#777").attr("stroke-width",1.2).attr("stroke-dasharray","12,8");
const lineB = d3.line().x(d=>xB(d[0])).y(d=>yB(d[1])).curve(d3.curveMonotoneX);
const Bg = svg.append("g").attr("clip-path","url(#clipB)");
Bg.append("path").attr("d",lineB(d3.zip(spmmYears,spmmValues))).attr("fill","none").attr("stroke","#f01414").attr("stroke-width",2);
Bg.append("path").attr("d",lineB(d3.zip(eYears,eValues))).attr("fill","none").attr("stroke","#0b4af0").attr("stroke-width",2.8);

function styleB(g){g.select(".domain").remove();g.selectAll("line").attr("stroke","#666").attr("stroke-width",0.8);}
const tenths = d3.range(-40,41).map(v=>v/10);
svg.append("g").attr("transform","translate(33,0)").call(d3.axisLeft(yB).tickValues(tenths).tickSize(-7).tickFormat("")).call(styleB);
svg.append("g").attr("transform","translate(33,0)").call(d3.axisLeft(yB).tickValues(bValTicks).tickSize(-15).tickFormat("")).call(styleB);
svg.append("g").attr("transform","translate(835,0)").call(d3.axisRight(yB).tickValues(tenths).tickSize(-7).tickFormat("")).call(styleB);
svg.append("g").attr("transform","translate(835,0)").call(d3.axisRight(yB).tickValues(bValTicks).tickSize(-15).tickFormat("")).call(styleB);
const yrs = d3.range(1948,2021);
svg.append("g").attr("transform","translate(0,933)").call(d3.axisBottom(xB).tickValues(yrs).tickSize(-2).tickFormat("")).call(styleB);
svg.append("g").attr("transform","translate(0,933)").call(d3.axisBottom(xB).tickValues(yearTicks).tickSize(-4.5).tickFormat("")).call(styleB);
svg.append("g").attr("transform","translate(0,704.5)").call(d3.axisTop(xB).tickValues(yrs).tickSize(-2).tickFormat("")).call(styleB);
svg.append("g").attr("transform","translate(0,704.5)").call(d3.axisTop(xB).tickValues(yearTicks).tickSize(-4.5).tickFormat("")).call(styleB);
svg.append("rect").attr("x",33).attr("y",704.5).attr("width",802).attr("height",228.5).attr("fill","none").attr("stroke","#555").attr("stroke-width",1);
svg.selectAll("text.yrl").data(yearTicks).join("text").attr("class","yrl")
  .attr("x",d=>xB(d)).attr("y",958).attr("text-anchor","middle").attr("font-size",17).attr("fill","#111")
  .attr("dx",d=>d===2005?"0 0 0 -4":null).text(d=>d);
svg.selectAll("text.bvl").data(bValTicks).join("text").attr("class","bvl")
  .attr("x",23).attr("y",d=>yB(d)+(d===4?13:d===-4?4:8)).attr("text-anchor","end").attr("font-size",20).attr("fill","#111").text(d=>d);
const tB = svg.append("text").attr("x",440).attr("y",693).attr("text-anchor","middle").attr("font-size",25);
tB.append("tspan").attr("fill","#0b4af0").text("E");
tB.append("tspan").attr("fill","#111").text("/");
tB.append("tspan").attr("fill","#f01414").text("SPMM");
svg.append("text").attr("x",9).attr("y",686).attr("text-anchor","middle").attr("font-size",18).attr("font-weight",700).style("font-family","'Liberation Sans',sans-serif").attr("fill","#111").text("B");

// === Panel C ===
const xC = d3.scaleLinear().domain([-18,18]).range([917,1241]);
const yC = d3.scaleLinear().domain([0.8,-0.8]).range([704.5,933]);
const lineC = d3.line().x(d=>xC(d[0])).y(d=>yC(d[1])).curve(d3.curveCatmullRom);
const corr = d3.zip(lags,corrValues);
svg.append("path").attr("d",lineC(corr.filter(d=>d[0]<=-10))).attr("fill","none").attr("stroke","#777").attr("stroke-width",6.5);
svg.append("path").attr("d",lineC(corr.filter(d=>d[0]>=2))).attr("fill","none").attr("stroke","#777").attr("stroke-width",6.5);
svg.append("path").attr("d",lineC(corr)).attr("fill","none").attr("stroke","#000").attr("stroke-width",1.5);
svg.append("line").attr("x1",917).attr("x2",1241).attr("y1",yC(0)).attr("y2",yC(0)).attr("stroke","#777").attr("stroke-width",1.3).attr("stroke-dasharray","14,9");
svg.append("line").attr("x1",xC(0)).attr("x2",xC(0)).attr("y1",704.5).attr("y2",933).attr("stroke","#777").attr("stroke-width",1.3).attr("stroke-dasharray","14,9");
const hund = d3.range(-16,17).map(v=>v/20);
const mths = d3.range(-18,19);
svg.append("g").attr("transform","translate(917,0)").call(d3.axisLeft(yC).tickValues(hund).tickSize(-2).tickFormat("")).call(styleB);
svg.append("g").attr("transform","translate(917,0)").call(d3.axisLeft(yC).tickValues(corrTicks).tickSize(-5).tickFormat("")).call(styleB);
svg.append("g").attr("transform","translate(1241,0)").call(d3.axisRight(yC).tickValues(hund).tickSize(-2).tickFormat("")).call(styleB);
svg.append("g").attr("transform","translate(1241,0)").call(d3.axisRight(yC).tickValues(corrTicks).tickSize(-5).tickFormat("")).call(styleB);
svg.append("g").attr("transform","translate(0,933)").call(d3.axisBottom(xC).tickValues(mths).tickSize(-2).tickFormat("")).call(styleB);
svg.append("g").attr("transform","translate(0,933)").call(d3.axisBottom(xC).tickValues(lagTicks).tickSize(-5).tickFormat("")).call(styleB);
svg.append("g").attr("transform","translate(0,704.5)").call(d3.axisTop(xC).tickValues(mths).tickSize(-2).tickFormat("")).call(styleB);
svg.append("g").attr("transform","translate(0,704.5)").call(d3.axisTop(xC).tickValues(lagTicks).tickSize(-5).tickFormat("")).call(styleB);
svg.append("rect").attr("x",917).attr("y",704.5).attr("width",324).attr("height",228.5).attr("fill","none").attr("stroke","#555").attr("stroke-width",1);
svg.selectAll("text.cvl").data(corrTicks).join("text").attr("class","cvl")
  .attr("x",913).attr("y",d=>yC(d)+6).attr("text-anchor","end").attr("font-size",18).attr("fill","#111").text(d=>d3.format(".1f")(d));
svg.selectAll("text.lagl").data(lagTicks).join("text").attr("class","lagl")
  .attr("x",d=>xC(d)).attr("y",953).attr("text-anchor","middle").attr("font-size",17).attr("fill","#111").text(d=>d);
svg.append("text").attr("x",1080).attr("y",972).attr("text-anchor","middle").attr("font-size",17.5).attr("fill","#111").text("lag (in months)");
svg.append("text").attr("x",990).attr("y",921).attr("text-anchor","middle").attr("font-size",18).attr("fill","#111").text("SPMM leading");
svg.append("text").attr("x",1170).attr("y",921).attr("text-anchor","middle").attr("font-size",18).attr("fill","#111").text("ENSO leading");
svg.append("text").attr("x",1079).attr("y",695).attr("text-anchor","middle").attr("font-size",24).attr("fill","#111").text("<SPMM|E>");
svg.append("text").attr("x",884).attr("y",686).attr("text-anchor","middle").attr("font-size",18).attr("font-weight",700).style("font-family","'Liberation Sans',sans-serif").attr("fill","#111").text("C");
</script></body></html>
